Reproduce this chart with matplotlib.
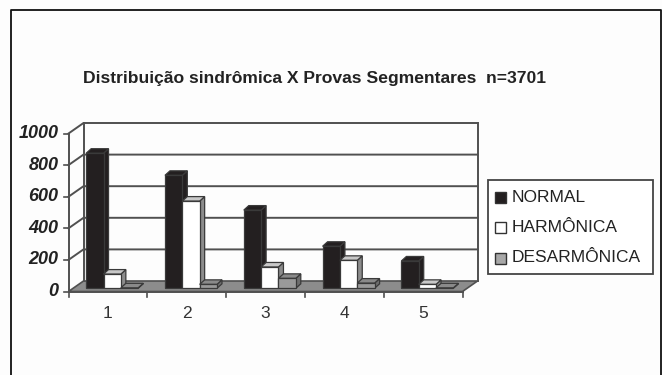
# Distribuicao sindromica - 3D look bar chart
import numpy as np
import matplotlib
matplotlib.use("Agg")
import matplotlib.pyplot as plt
from matplotlib.patches import Polygon, Rectangle

# DATA
categories = ["1", "2", "3", "4", "5"]
normal = [855, 715, 495, 266, 173]
harmonica = [90, 552, 135, 177, 25]
desarmonica = [3, 25, 63, 33, 3]
series_names = ["NORMAL", "HARMÔNICA", "DESARMÔNICA"]
y_ticks = [0, 200, 400, 600, 800, 1000]

W, H = 662, 375
plt.rcParams["font.family"] = ["Liberation Sans", "DejaVu Sans"]

fig = plt.figure(figsize=(W / 100, H / 100), dpi=100, facecolor="#fdfdfd")

# front plane of the chart box, in pixels
left, right, y0, y1 = 68.5, 462.5, 291.5, 133.5
ax = fig.add_axes([left / W, 1 - y0 / H, (right - left) / W, (y0 - y1) / H])
ax.set_xlim(0.5, 5.5)
ax.set_ylim(0, 1000)
ax.axis("off")

# helpers: pixels to data units
ux = 5 / (right - left)
uy = 1000 / (y0 - y1)
ddx, ddy = 15 * ux, 10.5 * uy   # whole depth of the box
line_c = "#505050"


def box3d(x, w, v, color, side, top):
    # bar sits part way in the depth of the box
    ox, oy = 3.5 * ux, 3.2 * uy
    bx, by = 5 * ux, 4.5 * uy
    x0 = x + ox
    x1 = x0 + w
    b = oy
    t = v + oy
    kw = dict(ec="#3a3a3a", lw=0.9, clip_on=False, zorder=5)
    ax.add_patch(Polygon([(x1, b), (x1 + bx, b + by), (x1 + bx, t + by), (x1, t)], fc=side, **kw))
    ax.add_patch(Polygon([(x0, t), (x1, t), (x1 + bx, t + by), (x0 + bx, t + by)], fc=top, **kw))
    ax.add_patch(Rectangle((x0, b), w, v, fc=color, **kw))


# floor and walls
ax.add_patch(Polygon([(0.5, 0), (5.5, 0), (5.5 + ddx, ddy), (0.5 + ddx, ddy)],
                     fc="#8c8c8c", ec=line_c, lw=1.2, clip_on=False, zorder=2))
ax.plot([0.5 + ddx, 0.5 + ddx], [ddy, 1000 + ddy], color=line_c, lw=1.4, clip_on=False, zorder=3)
ax.plot([5.5 + ddx, 5.5 + ddx], [ddy, 1000 + ddy], color=line_c, lw=1.4, clip_on=False, zorder=3)
for v in y_ticks[1:]:
    ax.plot([0.5, 0.5 + ddx, 5.5 + ddx], [v, v + ddy, v + ddy], color=line_c, lw=1.4,
            clip_on=False, zorder=3)
ax.plot([0.5, 0.5], [0, 1000], color=line_c, lw=1.4, clip_on=False, zorder=4)
ax.plot([0.5, 5.5], [0, 0], color=line_c, lw=1.4, clip_on=False, zorder=4)

# tick marks and labels
for v in y_ticks:
    ax.plot([0.5 - 5 * ux, 0.5], [v, v], color=line_c, lw=1.2, clip_on=False)
    ax.text(0.5 - 10 * ux, v, str(v), ha="right", va="center", fontsize=13,
            fontweight="bold", fontstyle="italic", color="#222222")
for i in range(6):
    ax.plot([0.5 + i, 0.5 + i], [0, -5 * uy], color=line_c, lw=1.2, clip_on=False)
for i, c in enumerate(categories):
    ax.text(i + 1, -21.5 * uy, c, ha="center", va="center", fontsize=12.5, color="#333333")

# bars, left to right so each one covers the side of the one before
bw = 0.22
for i in range(5):
    x = i + 0.5 + 0.18
    box3d(x, bw, normal[i], "#231f20", "#231f20", "#231f20")
    box3d(x + bw, bw, harmonica[i], "white", "#8c8c8c", "#c8c8c8")
    box3d(x + 2 * bw, bw, desarmonica[i], "#9a9a9a", "#6e6e6e", "#8a8a8a")

# overlay in figure pixels: title, legend, outer frame
over = fig.add_axes([0, 0, 1, 1], facecolor="none")
over.set_xlim(0, W)
over.set_ylim(H, 0)
over.axis("off")
over.text(314.5, 79, "Distribuição sindrômica X Provas Segmentares  n=3701", ha="center", va="center",
          fontsize=12.6, fontweight="bold", color="#222222")
over.add_patch(Rectangle((487.5, 179.5), 165, 94.5, fc="white", ec="#444444", lw=1.3))
colors = ["#231f20", "white", "#a8a8a8"]
ys = [197, 227, 258]
for name, c, y in zip(series_names, colors, ys):
    over.add_patch(Rectangle((494.5, y - 5.5), 11, 11, fc=c, ec="#333333", lw=1))
    over.text(511.5, y, name, ha="left", va="center", fontsize=12.5, color="#222222")
over.plot([10.5, 10.5, 660.5, 660.5], [375, 9.5, 9.5, 375], color="#111111", lw=1.3)

fig.savefig("out.png", dpi=100, facecolor=fig.get_facecolor())
